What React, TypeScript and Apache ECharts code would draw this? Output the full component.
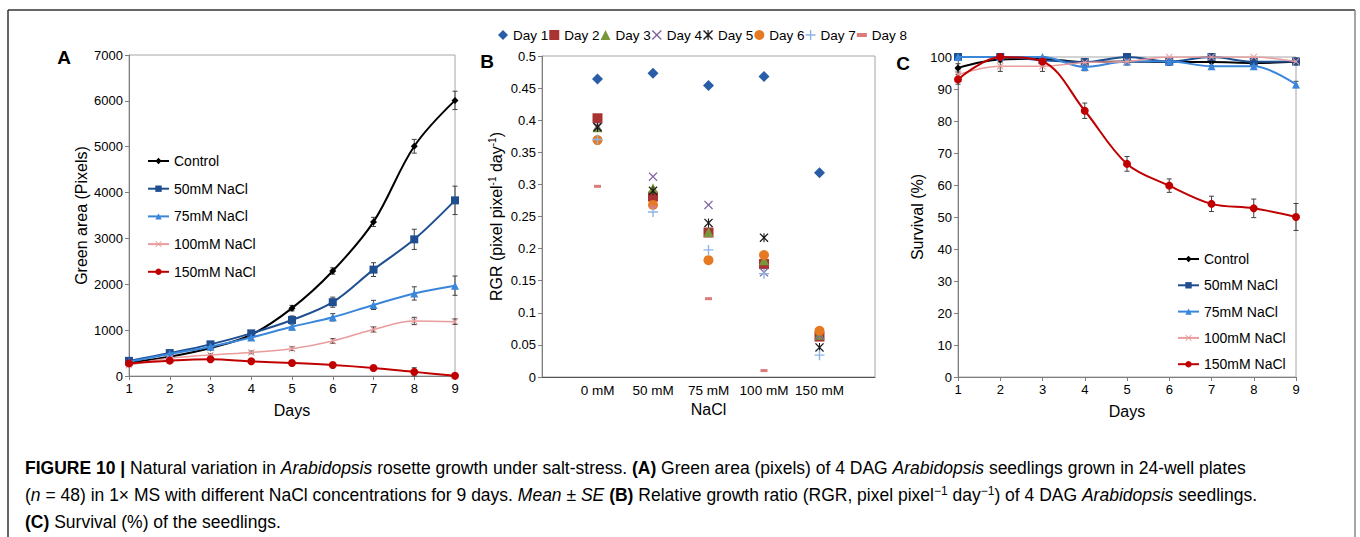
import React, { useEffect, useRef } from 'react';
import * as echarts from 'echarts';

// ---------------- data ----------------
const days = [1, 2, 3, 4, 5, 6, 7, 8, 9];
const treatmentNames = ['Control', '50mM NaCl', '75mM NaCl', '100mM NaCl', '150mM NaCl'];

// Panel A: green area (pixels), mean and SE
const areaControl = [290, 420, 610, 900, 1480, 2290, 3360, 5010, 6010];
const areaControlSE = [20, 25, 35, 50, 60, 70, 100, 150, 200];
const area50 = [330, 500, 690, 930, 1220, 1610, 2320, 2980, 3830];
const area50SE = [20, 30, 40, 50, 90, 110, 150, 220, 310];
const area75 = [310, 480, 640, 840, 1075, 1280, 1550, 1800, 1970];
const area75SE = [20, 25, 35, 45, 70, 80, 100, 145, 210];
const area100 = [240, 385, 460, 515, 595, 765, 1015, 1200, 1185];
const area100SE = [15, 20, 25, 30, 40, 50, 55, 80, 60];
const area150 = [275, 335, 365, 320, 285, 240, 175, 90, 5];
const area150SE = [15, 20, 25, 25, 25, 30, 40, 90, 40];

// Panel B: RGR per NaCl concentration
const concentrations = ['0 mM', '50 mM', '75 mM', '100 mM', '150 mM'];
const rgrDayNames = ['Day 1', 'Day 2', 'Day 3', 'Day 4', 'Day 5', 'Day 6', 'Day 7', 'Day 8'];
const rgrDay1 = [0.464, 0.473, 0.454, 0.468, 0.318];
const rgrDay2 = [0.403, 0.281, 0.225, 0.176, 0.063];
const rgrDay3 = [0.389, 0.294, 0.226, 0.182, 0.066];
const rgrDay4 = [0.390, 0.312, 0.268, 0.163, 0.065];
const rgrDay5 = [0.389, 0.290, 0.240, 0.217, 0.046];
const rgrDay6 = [0.369, 0.268, 0.182, 0.190, 0.072];
const rgrDay7 = [0.370, 0.257, 0.198, 0.161, 0.034];
const rgrDay8 = [0.297, 0.265, 0.122, 0.010, null];

// Panel C: survival (%)
const survControl = [96.6, 99.2, 99.4, 98.4, 98.6, 98.4, 98.4, 98.1, 98.6];
const survControlSE = [1.3, 0.8, 0.6, 1, 1, 1, 1, 1, 1];
const surv50 = [100, 100, 99, 98.4, 100, 98.6, 100, 98.5, 98.6];
const surv50SE = [0, 0, 1, 1, 0, 1, 0, 1, 1];
const surv75 = [100, 100, 100, 96.9, 98.6, 98.6, 97.1, 97.1, 91.4];
const surv75SE = [0, 0, 0, 1.2, 1, 1, 1, 1, 1];
const surv100 = [94.5, 97.1, 97.1, 98.3, 98.6, 100, 100, 100, 98.6];
const surv100SE = [1.5, 1.6, 1.6, 1, 1, 0, 0, 0, 1];
const surv150 = [93.0, 100, 98.6, 83.2, 66.6, 59.8, 54.1, 52.7, 50.0];
const surv150SE = [1.5, 0, 1.5, 2.4, 2.3, 2.1, 2.4, 2.9, 4.2];

// tick labels
const areaTicks = { min: 0, max: 7000, interval: 1000 };
const rgrTicks = { min: 0, max: 0.5, interval: 0.05 };
const survTicks = { min: 0, max: 100, interval: 10 };

// ---------------- styles ----------------
const FONT = '"Liberation Sans", Arial, sans-serif';
const xPath = 'path://M0,1 L1,0 L5,4 L9,0 L10,1 L6,5 L10,9 L9,10 L5,6 L1,10 L0,9 L4,5 Z';
const plusPath = 'path://M4.3,0 H5.7 V4.3 H10 V5.7 H5.7 V10 H4.3 V5.7 H0 V4.3 H4.3 Z';
const starPath =
  'path://M0,1 L1,0 L5,4 L9,0 L10,1 L6,5 L10,9 L9,10 L5,6 L1,10 L0,9 L4,5 Z M4.4,0 H5.6 V10 H4.4 Z';
const dashPath = 'path://M0,0 H10 V4 H0 Z';

const lineStyles = [
  { color: '#000000', symbol: 'diamond', size: 7, width: 2 },
  { color: '#1F4E91', symbol: 'rect', size: 8, width: 2 },
  { color: '#3A86DA', symbol: 'triangle', size: 8, width: 2 },
  { color: '#E99C9C', symbol: xPath, size: 7, width: 1.5 },
  { color: '#C00000', symbol: 'circle', size: 8, width: 2 },
];
const dayStyles = [
  { color: '#2A5DA8', symbol: 'diamond', size: 11 },
  { color: '#A93232', symbol: 'rect', size: 10 },
  { color: '#77973A', symbol: 'triangle', size: 10 },
  { color: '#8064A2', symbol: xPath, size: 9 },
  { color: '#1A1A1A', symbol: starPath, size: 9 },
  { color: '#E57A22', symbol: 'circle', size: 10 },
  { color: '#8EB4E3', symbol: plusPath, size: 10 },
  { color: '#DB7B7B', symbol: dashPath, size: [7, 3] },
];

const pairs = (vals: number[]) => days.map((d, i) => [d, vals[i]]);
const errData = (vals: number[], se: number[]) => days.map((d, i) => [d, vals[i], se[i]]);

const errRender = (params: any, api: any) => {
  const x = api.value(0);
  const y = api.value(1);
  const e = api.value(2);
  if (!e) return null;
  const t = api.coord([x, y + e]);
  const b = api.coord([x, Math.max(0, y - e)]);
  const w = 2.5;
  const st = { stroke: '#404040', lineWidth: 1 };
  return {
    type: 'group',
    children: [
      { type: 'line', shape: { x1: t[0], y1: t[1], x2: b[0], y2: b[1] }, style: st },
      { type: 'line', shape: { x1: t[0] - w, y1: t[1], x2: t[0] + w, y2: t[1] }, style: st },
      { type: 'line', shape: { x1: b[0] - w, y1: b[1], x2: b[0] + w, y2: b[1] }, style: st },
    ],
  };
};

const axisCommon = {
  axisLine: { show: true, lineStyle: { color: '#7F7F7F', width: 1 } },
  axisTick: { show: true, inside: false, length: 4, lineStyle: { color: '#7F7F7F' } },
  axisLabel: { color: '#000', fontSize: 13, fontFamily: FONT, margin: 6, formatter: (v: number) => String(v) },
  splitLine: { show: false },
  nameTextStyle: { color: '#000', fontSize: 16, fontFamily: FONT },
};

export default function App() {
  const ref = useRef<HTMLDivElement>(null);

  useEffect(() => {
    if (!ref.current) return;
    const chart = echarts.init(ref.current, null, { renderer: 'svg' });

    const areaSets = [
      [areaControl, areaControlSE],
      [area50, area50SE],
      [area75, area75SE],
      [area100, area100SE],
      [area150, area150SE],
    ];
    const survSets = [
      [survControl, survControlSE],
      [surv50, surv50SE],
      [surv75, surv75SE],
      [surv100, surv100SE],
      [surv150, surv150SE],
    ];
    const rgrSets = [rgrDay1, rgrDay2, rgrDay3, rgrDay4, rgrDay5, rgrDay6, rgrDay7, rgrDay8];

    const series: any[] = [];
    [
      { sets: areaSets, axis: 0 },
      { sets: survSets, axis: 2 },
    ].forEach(({ sets, axis }) => {
      sets.forEach(([vals, se], i) => {
        series.push({
          type: 'custom',
          name: 'err-' + axis + '-' + i,
          xAxisIndex: axis,
          yAxisIndex: axis,
          data: errData(vals, se),
          encode: { x: 0, y: 1 },
          renderItem: errRender,
          silent: true,
          z: 1,
        });
      });
      sets.forEach(([vals], i) => {
        const s = lineStyles[i];
        series.push({
          type: 'line',
          name: treatmentNames[i],
          xAxisIndex: axis,
          yAxisIndex: axis,
          data: pairs(vals),
          smooth: 0.35,
          symbol: s.symbol,
          symbolSize: s.size,
          showSymbol: true,
          lineStyle: { color: s.color, width: s.width },
          itemStyle: { color: s.color },
          silent: true,
          z: 2 + i,
        });
      });
    });
    rgrSets.forEach((vals, i) => {
      const s = dayStyles[i];
      series.push({
        type: 'scatter',
        name: rgrDayNames[i],
        xAxisIndex: 1,
        yAxisIndex: 1,
        data: vals.map((v, j) => [j + 1, v]),
        symbol: s.symbol,
        symbolSize: s.size,
        itemStyle: { color: s.color, opacity: 1 },
        silent: true,
        z: 2 + i,
      });
    });

    const supRich = {
      n: { fontSize: 16, fontFamily: FONT, color: '#000', lineHeight: 18 },
      sup: { fontSize: 10, fontFamily: FONT, color: '#000', lineHeight: 10, verticalAlign: 'top' },
    };

    const capBase = { fontSize: 17.5, fontFamily: FONT, color: '#3A3A3A', lineHeight: 20 };
    const capRich = {
      n: { ...capBase },
      i: { ...capBase, fontStyle: 'italic' },
      b: { ...capBase, fontWeight: 'bold', color: '#222' },
      s: { ...capBase, fontSize: 12, lineHeight: 12, verticalAlign: 'top' },
    };

    const panelLabel = (txt: string, x: number, y: number) => ({
      type: 'text',
      x,
      y,
      style: {
        text: txt,
        fontSize: 19,
        fontWeight: 'bold',
        fontFamily: FONT,
        fill: '#000',
        align: 'center',
        verticalAlign: 'middle',
      },
    });

    const lineLegend = (left: number, top: number, gap: number) => ({
      data: treatmentNames,
      orient: 'vertical',
      left,
      top,
      padding: 0,
      itemWidth: 21,
      itemHeight: 8,
      itemGap: gap,
      selectedMode: false,
      textStyle: { fontSize: 14, fontFamily: FONT, color: '#000', lineHeight: 14 },
    });

    const option: any = {
      animation: false,
      backgroundColor: '#fff',
      textStyle: { fontFamily: FONT },
      grid: [
        { left: 129, top: 55, width: 326, height: 321, show: true, borderColor: '#A6A6A6', borderWidth: 1 },
        { left: 542, top: 56, width: 333, height: 321, show: true, borderColor: '#A6A6A6', borderWidth: 1 },
        { left: 958, top: 57, width: 338, height: 320, show: true, borderColor: '#A6A6A6', borderWidth: 1 },
      ],
      xAxis: [
        {
          ...axisCommon,
          type: 'value',
          gridIndex: 0,
          min: 1,
          max: 9,
          interval: 1,
          name: 'Days',
          nameLocation: 'middle',
          nameGap: 26,
        },
        {
          ...axisCommon,
          type: 'value',
          gridIndex: 1,
          min: 0,
          max: 6,
          interval: 1,
          axisTick: { show: false },
          axisLine: { show: true, lineStyle: { color: '#555', width: 1 } },
          axisLabel: {
            ...axisCommon.axisLabel,
            fontSize: 13.5,
            formatter: (v: number) => concentrations[v - 1] ?? '',
          },
          name: 'NaCl',
          nameLocation: 'middle',
          nameGap: 23,
        },
        {
          ...axisCommon,
          type: 'value',
          gridIndex: 2,
          min: 1,
          max: 9,
          interval: 1,
          name: 'Days',
          nameLocation: 'middle',
          nameGap: 26,
        },
      ],
      yAxis: [
        {
          ...axisCommon,
          type: 'value',
          gridIndex: 0,
          ...areaTicks,
          name: 'Green area (Pixels)',
          nameLocation: 'middle',
          nameGap: 40,
        },
        {
          ...axisCommon,
          type: 'value',
          gridIndex: 1,
          ...rgrTicks,
          axisLabel: {
            ...axisCommon.axisLabel,
            formatter: (v: number) => String(Math.round(v * 100) / 100),
          },
          name: '{n|RGR (pixel pixel}{sup|-1}{n| day}{sup|-1}{n|)}',
          nameLocation: 'middle',
          nameGap: 37,
          nameTextStyle: { ...axisCommon.nameTextStyle, rich: supRich },
        },
        {
          ...axisCommon,
          type: 'value',
          gridIndex: 2,
          ...survTicks,
          name: 'Survival (%)',
          nameLocation: 'middle',
          nameGap: 33,
        },
      ],
      legend: [
        lineLegend(147, 154, 13.7),
        {
          data: rgrDayNames,
          orient: 'horizontal',
          left: 498,
          top: 28,
          padding: 0,
          itemWidth: 10,
          itemHeight: 10,
          itemGap: 1,
          selectedMode: false,
          textStyle: { fontSize: 13.5, fontFamily: FONT, color: '#000', lineHeight: 14 },
        },
        lineLegend(1177, 252, 12.3),
      ],
      graphic: [
        { type: 'line', shape: { x1: 8, y1: 10, x2: 1355, y2: 10 }, style: { stroke: '#333', lineWidth: 1.5 } },
        { type: 'line', shape: { x1: 8, y1: 10, x2: 8, y2: 537 }, style: { stroke: '#333', lineWidth: 1.5 } },
        { type: 'line', shape: { x1: 1355, y1: 10, x2: 1355, y2: 537 }, style: { stroke: '#888', lineWidth: 1.5 } },
        panelLabel('A', 64, 57),
        panelLabel('B', 487, 61),
        panelLabel('C', 903, 63),
        {
          type: 'text',
          x: 25,
          y: 468,
          style: {
            text:
              '{b|FIGURE 10 | }{n|Natural variation in }{i|Arabidopsis}{n| rosette growth under salt-stress. }{b|(A)}{n| Green area (pixels) of 4 DAG }{i|Arabidopsis}{n| seedlings grown in 24-well plates}',
            rich: capRich,
            verticalAlign: 'middle',
          },
        },
        {
          type: 'text',
          x: 25,
          y: 495,
          style: {
            text:
              '{n|(}{i|n}{n| = 48) in 1× MS with different NaCl concentrations for 9 days. }{i|Mean ± SE}{n| }{b|(B)}{n| Relative growth ratio (RGR, pixel pixel}{s|−1}{n| day}{s|−1}{n|) of 4 DAG }{i|Arabidopsis}{n| seedlings.}',
            rich: capRich,
            verticalAlign: 'middle',
          },
        },
        {
          type: 'text',
          x: 25,
          y: 522,
          style: {
            text: '{b|(C)}{n| Survival (%) of the seedlings.}',
            rich: capRich,
            verticalAlign: 'middle',
          },
        },
      ],
      series,
    };

    chart.setOption(option);
    return () => chart.dispose();
  }, []);

  return (
    <div
      ref={ref}
      style={{ position: 'absolute', left: 0, top: 0, width: 1360, height: 537, background: '#fff' }}
    />
  );
}
